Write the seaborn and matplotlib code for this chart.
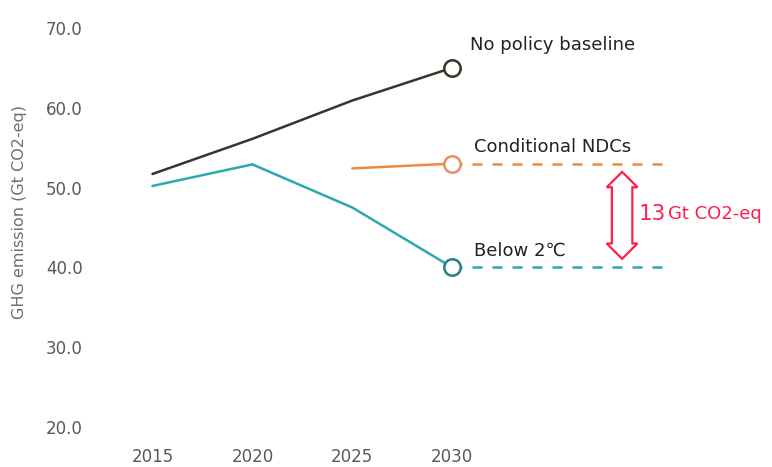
import numpy as np
import pandas as pd
import seaborn as sns
import matplotlib.pyplot as plt

# ===============================
# DATA
# ===============================
years = [2015, 2020, 2025, 2030]
baseline = [51.7, 56.1, 60.9, 65.0]
below_2c = [50.2, 52.9, 47.5, 40.0]
ndc_years = [2025, 2030]
conditional_ndc = [52.4, 53.0]
extend_to = 2040.7
y_ticks = [20, 30, 40, 50, 60, 70]
gap_label = "13"
gap_unit = "Gt CO2-eq"

# ===============================
# STYLE
# ===============================
sns.set_theme(style="white")
plt.rcParams["font.family"] = ["DejaVu Sans"]

c_base = "#2e3a28"
c_below = "#2aa9ae"
c_ndc = "#ef8a3c"
c_red = "#ff1f4b"
grey = "#595959"

fig = plt.figure(figsize=(7.72, 4.67), dpi=100)
ax = fig.add_axes([0.125, 0.058, 0.875, 0.92])

# ===============================
# LINES
# ===============================
sns.lineplot(x=years, y=baseline, color=c_base, lw=1.8, ax=ax)
sns.lineplot(x=years, y=below_2c, color=c_below, lw=1.8, ax=ax)
sns.lineplot(x=ndc_years, y=conditional_ndc, color=c_ndc, lw=1.8, ax=ax)

# dashed extensions
sns.lineplot(x=[years[-1], extend_to], y=[conditional_ndc[-1]] * 2, color=c_ndc,
             lw=1.8, ax=ax, linestyle=(0, (4, 4)))
sns.lineplot(x=[years[-1], extend_to], y=[below_2c[-1]] * 2, color=c_below,
             lw=1.8, ax=ax, linestyle=(0, (4, 4)))

# end markers
for vals, ec in [(baseline, "#2e3a28"), (conditional_ndc, "#e88d6a"), (below_2c, "#2a7f86")]:
    sns.scatterplot(x=[years[-1]], y=[vals[-1]], s=140, facecolor="white",
                    edgecolor=ec, linewidth=1.8, ax=ax, zorder=5)

# labels
ax.text(2030.9, baseline[-1] + 2.9, "No policy baseline", fontsize=13, color="#222222", va="center")
ax.text(2031.1, conditional_ndc[-1] + 2.1, "Conditional NDCs", fontsize=13, color="#222222", va="center")
ax.text(2031.1, below_2c[-1] + 2.1, "Below 2℃", fontsize=13, color="#222222", va="center")

# gap arrow (hollow double arrow drawn as a rotated darrow box)
arrow_x = 2038.5
mid = (conditional_ndc[-1] + below_2c[-1]) / 2
ax.text(arrow_x, mid, " " * 16, rotation=90, fontsize=9, ha="center", va="center",
        bbox=dict(boxstyle="darrow,pad=0.3", fc="white", ec=c_red, lw=1.6), zorder=6)
ax.text(arrow_x + 0.85, mid + 0.2, gap_label, fontsize=15.5, color=c_red, va="center")
ax.text(arrow_x + 2.3, mid + 0.2, gap_unit, fontsize=13, color=c_red, va="center")

# ===============================
# AXES
# ===============================
ax.set_xlim(2012.2, 2046.0)
ax.set_ylim(18.4, 72.2)
ax.set_xticks(years)
ax.set_yticks(y_ticks)
ax.set_yticklabels([f"{v:.1f}" for v in y_ticks])
ax.tick_params(axis="both", colors=grey, labelsize=12, length=0)
ax.tick_params(axis="y", pad=10)
ax.tick_params(axis="x", pad=6)
ax.set_ylabel("GHG emission (Gt CO2-eq)", color="#6e6e6e", fontsize=11.5)
ax.yaxis.set_label_coords(-0.103, 0.53)
for s in ax.spines.values():
    s.set_visible(False)
ax.grid(False)

fig.savefig("out.png", dpi=100)
